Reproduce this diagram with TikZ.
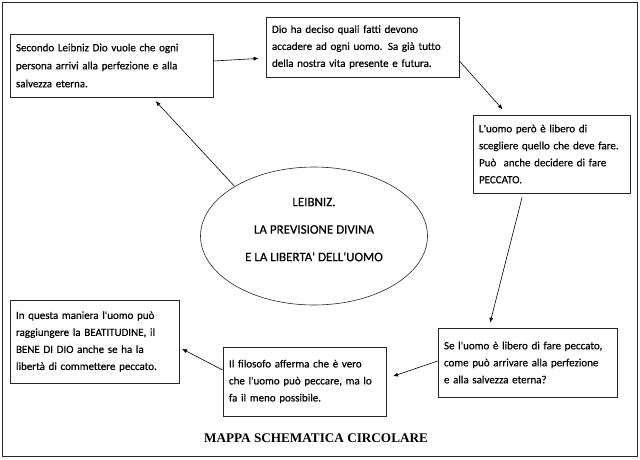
\documentclass[tikz,border=0pt]{standalone}
\usepackage{fontspec}
\setmainfont{Carlito}[FakeBold=0.4, Ligatures=TeXOff]
\newfontfamily\titlefont{Liberation Serif}
\usetikzlibrary{arrows.meta,shapes.geometric,calc}
\begin{document}
\begin{tikzpicture}[x=1pt,y=-1pt,
  box/.style={draw=black!85, line width=0.8pt, rectangle, inner xsep=6pt, inner ysep=0pt,
    align=left, font=\fontsize{11}{17}\selectfont},
  arr/.style={line width=0.6pt, -{Latex[length=5pt,width=4pt]}}]
\useasboundingbox (0,0) rectangle (640,459);
\draw[line width=0.8pt, draw=black!85] (2.5,2.5) rectangle (637,456);

\node[box, text width=191pt, minimum height=63pt, font=\fontsize{11}{18}\selectfont] (A) at (111.5,65.5)
  {Secondo Leibniz Dio vuole che ogni\\persona arrivi alla perfezione e alla\\salvezza eterna.};
\node[box, text width=181pt, minimum height=60pt] (B) at (362.5,47)
  {Dio ha deciso quali fatti devono\\accadere ad ogni uomo. Sa già tutto\\della nostra vita presente e futura.};
\node[box, text width=145pt, minimum height=78pt] (C) at (551.5,154)
  {L'uomo però è libero di\\scegliere quello che deve fare.\\Può\ \ anche decidere di fare\\PECCATO.};
\node[box, text width=167pt, minimum height=69pt] (F) at (527.5,362.5)
  {Se l'uomo è libero di fare peccato,\\come può arrivare alla perfezione\\e alla salvezza eterna?};
\node[box, text width=151pt, minimum height=69pt] (E) at (304.5,381.5)
  {Il filosofo afferma che è vero\\che l'uomo può peccare, ma lo\\fa il meno possibile.};
\node[box, text width=157pt, minimum height=83pt] (D) at (94.5,341.5)
  {In questa maniera l'uomo può\\raggiungere la BEATITUDINE, il\\BENE DI DIO anche se ha la\\libertà di commettere peccato.};

\node[ellipse, draw=black!85, line width=0.6pt, minimum width=227pt, minimum height=138pt,
  inner sep=0pt, align=center, font=\fontsize{13}{27.5}\selectfont, text depth=13pt] (L) at (314,236)
  {LEIBNIZ.\\LA PREVISIONE DIVINA\\E LA LIBERTA' DELL'UOMO};

\node[font=\titlefont\bfseries\fontsize{13.2}{15}\selectfont] (T) at (316,438) {MAPPA SCHEMATICA CIRCOLARE};

\draw[arr, shorten >=5pt] (L.148) -- ($(A.south west)!0.70!(A.south east)$);
\draw[arr, shorten >=7pt] ($(A.east)+(0,-4.5)$) -- ($(B.west)+(0,11)$);
\draw[arr, shorten >=7pt] ($(B.east)+(0,14)$) -- ($(C.north west)!0.22!(C.north east)$);
\draw[arr, shorten <=4pt, shorten >=5pt] ($(C.south west)!0.32!(C.south east)$) -- ($(F.north west)!0.285!(F.north east)$);
\draw[arr, shorten >=7pt] ($(F.west)+(0,-1.5)$) -- ($(E.east)+(0,-3)$);
\draw[arr, shorten >=3pt] ($(E.west)+(0,-11.5)$) -- ($(D.east)+(0,6)$);
\end{tikzpicture}
\end{document}
